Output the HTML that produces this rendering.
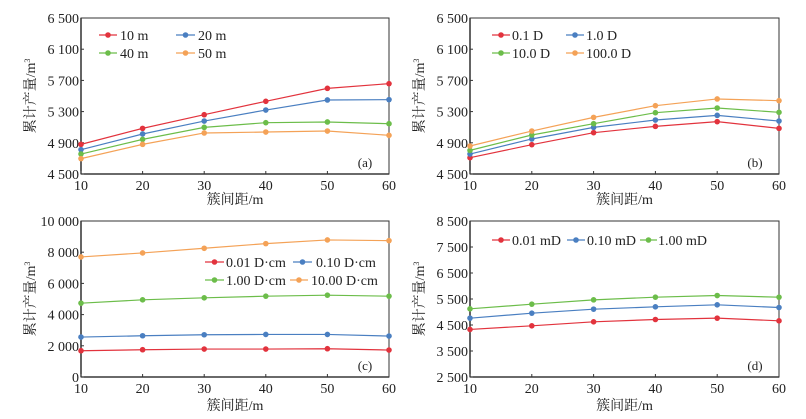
<!DOCTYPE html>
<html><head><meta charset="utf-8"><style>
body{margin:0;background:#fff}
svg{display:block}
text{font-family:"Liberation Serif","Noto Serif CJK SC",serif;fill:#222}
</style></head><body>
<svg id="s" width="806" height="419"></svg>
<script>
const categories=[10,20,30,40,50,60];
const aNames=["10 m","20 m","40 m","50 m"];
const aS1=[4880,5085,5260,5432,5598,5658];
const aS2=[4812,5013,5179,5320,5449,5453];
const aS3=[4756,4944,5098,5158,5167,5145];
const aS4=[4697,4880,5026,5038,5051,4996];
const aTicks=[4500,4900,5300,5700,6100,6500];
const aTickLabels=["4 500","4 900","5 300","5 700","6 100","6 500"];
const bNames=["0.1 D","1.0 D","10.0 D","100.0 D"];
const bS1=[4709,4876,5030,5111,5171,5085];
const bS2=[4756,4949,5098,5192,5252,5179];
const bS3=[4803,5000,5145,5286,5346,5291];
const bS4=[4859,5051,5226,5376,5462,5440];
const cNames=["0.01 D·cm","0.10 D·cm","1.00 D·cm","10.00 D·cm"];
const cS1=[1684,1748,1791,1791,1812,1727];
const cS2=[2559,2644,2708,2729,2729,2623];
const cS3=[4733,4947,5075,5181,5245,5181];
const cS4=[7697,7953,8252,8550,8785,8742];
const cTicks=[0,2000,4000,6000,8000,10000];
const cTickLabels=["0","2 000","4 000","6 000","8 000","10 000"];
const dNames=["0.01 mD","0.10 mD","1.00 mD"];
const dS1=[4329,4469,4623,4712,4763,4661];
const dS2=[4763,4955,5109,5199,5276,5173];
const dS3=[5122,5301,5467,5570,5634,5570];
const dTicks=[2500,3500,4500,5500,6500,7500,8500];
const dTickLabels=["2 500","3 500","4 500","5 500","6 500","7 500","8 500"];

const colors=["#e2333d","#4a7fc1","#6cbd4a","#f4a257"];
const NS="http://www.w3.org/2000/svg";
const svg=document.getElementById('s');
function mk(tag,attrs,parent){const e=document.createElementNS(NS,tag);for(const k in attrs)e.setAttribute(k,attrs[k]);(parent||svg).appendChild(e);return e;}

function panel(id,L,R,T,B,ticks,tickLabels,series,names,label,legend,xtitleY){
  const g=mk('g',{});
  
  
  const ymin=ticks[0],ymax=ticks[ticks.length-1];
  const xs=v=>L+(v-10)/50*(R-L);
  const ys=v=>B-(v-ymin)/(ymax-ymin)*(B-T);
  const fr=mk('rect',{x:L,y:T,width:R-L,height:B-T,fill:'none',stroke:'#333','stroke-width':1},g);
  
  
  mk('line',{x1:L,y1:B,x2:R,y2:B,stroke:'#111','stroke-width':1.3},g);
  mk('line',{x1:L,y1:T,x2:L,y2:B,stroke:'#111','stroke-width':1.3},g);
  ticks.forEach((t,i)=>{
    const y=ys(t);
    mk('line',{x1:L,y1:y,x2:L+3,y2:y,stroke:'#333'},g);
    const tx=mk('text',{x:L-2,y:y+5,'text-anchor':'end','font-size':14},g);
    tx.textContent=tickLabels[i];
    
    
  });
  categories.forEach(c=>{
    const x=xs(c);
    mk('line',{x1:x,y1:B,x2:x,y2:B-3,stroke:'#333'},g);
    const tx=mk('text',{x:x,y:B+16,'text-anchor':'middle','font-size':14},g);
    tx.textContent=c;
    
    
  });
  const xt=mk('text',{x:(L+R)/2,y:xtitleY,'text-anchor':'middle','font-size':14},g);
  xt.textContent='簇间距/m';
  
  
  const cy=(T+B)/2, cx=L-46;
  const yt=mk('text',{x:cx,y:cy,'text-anchor':'middle','font-size':14,transform:`rotate(-90 ${cx} ${cy})`},g);
  yt.innerHTML='累计产量/m<tspan dy="-5" font-size="8">3</tspan>';
  
  
  series.forEach((s,i)=>{
    const pts=s.map((v,j)=>xs(categories[j])+','+ys(v)).join(' ');
    const pl=mk('polyline',{points:pts,fill:'none',stroke:colors[i],'stroke-width':1.2},g);
    
    
    s.forEach((v,j)=>{
      const c=mk('circle',{cx:xs(categories[j]),cy:ys(v),r:2.8,fill:colors[i]},g);
      
      
    });
  });
  legend.forEach((p,i)=>{
    const [x1,x2,y,tx]=p;
    const lg=mk('g',{},g);
    
    
    mk('line',{x1:x1,y1:y,x2:x2,y2:y,stroke:colors[i],'stroke-width':1.2},lg);
    mk('circle',{cx:(x1+x2)/2,cy:y,r:2.8,fill:colors[i]},lg);
    const t=mk('text',{x:tx,y:y+5,'font-size':14},lg);
    t.textContent=names[i];
  });
  const pt=mk('text',{x:R-24,y:B-7,'font-size':13,'text-anchor':'middle'},g);
  pt.textContent='('+label+')';
  
  
}
panel('a',81,389,18,174,aTicks,aTickLabels,[aS1,aS2,aS3,aS4],aNames,'a',
  [[99,117,35,120],[176,195,35,198],[99,117,53,120],[176,195,53,198]],204);
panel('b',470,779,18,174,aTicks,aTickLabels,[bS1,bS2,bS3,bS4],bNames,'b',
  [[492,510,35,512],[566,584,35,586],[492,510,53,512],[566,584,53,586]],204);
panel('c',81,389,221,377,cTicks,cTickLabels,[cS1,cS2,cS3,cS4],cNames,'c',
  [[205,224,262,226],[293,312,262,316],[205,224,280,226],[290,308,280,311]],410);
panel('d',470,779,221,377,dTicks,dTickLabels,[dS1,dS2,dS3],dNames,'d',
  [[492,510,240,512],[567,585,240,587],[640,657,240,658]],410);
</script>
</body></html>
